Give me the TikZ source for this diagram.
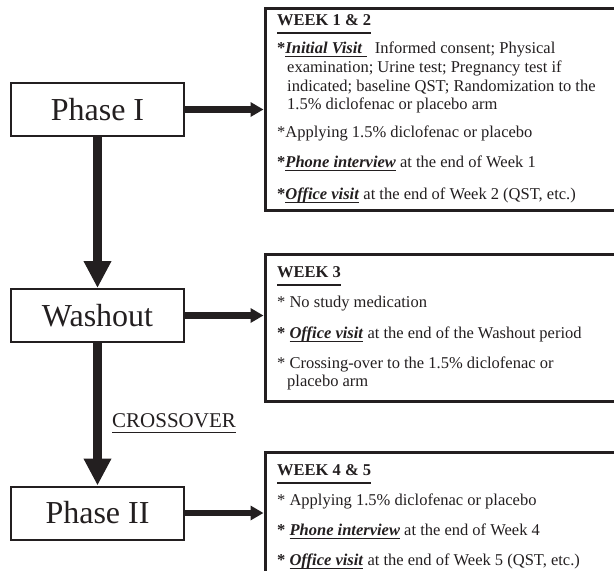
\documentclass[tikz,border=0pt]{standalone}
\usepackage{fontspec}
\setmainfont{Liberation Serif}
\usetikzlibrary{arrows.meta}
\definecolor{ink}{RGB}{35,31,32}
\newcommand\myul[2][4pt]{\setbox0\hbox{#2}\rlap{\color{ink}\rule[-#1]{\wd0}{1.3pt}}\box0\relax}
\newcommand\hdul[1]{\setbox0\hbox{#1}\rlap{\color{ink}\rule[-8.5pt]{\wd0}{2pt}}\box0\relax}
\newcommand\bi[1]{\textbf{\textit{#1}}}
\tikzset{
  phase/.style={draw=ink, line width=2pt, minimum width=173pt, minimum height=53pt, inner sep=0pt,
    font=\fontsize{32}{34}\selectfont, text=ink},
  weekbox/.style={draw=ink, line width=3pt, minimum width=360pt, inner sep=0pt},
  txt/.style={anchor=base west, inner sep=0pt, font=\fontsize{16.5}{18.5}\selectfont, text=ink},
  hd/.style={txt, font=\fontsize{16.5}{18.5}\selectfont\bfseries},
  varrow/.style={draw=ink, line width=9pt, -{Triangle[width=26pt,length=27pt]}},
  harrow/.style={draw=ink, line width=6.5pt, -{Triangle[width=14pt,length=13pt]}},
}
\begin{document}
\begin{tikzpicture}[x=1pt,y=-1pt]
\useasboundingbox (0,0) rectangle (614,571);
\clip (0,0) rectangle (614,571);
\fill[white] (0,0) rectangle (614,571);
% left boxes
\node[phase] (p1) at (97.5,109.5) {Phase I};
\node[phase] (wo) at (97.5,315.5) {Washout};
\node[phase] (p2) at (97.5,513) {Phase II};
% right boxes
\node[weekbox, minimum height=202pt] (w12) at (445,109) {};
\node[weekbox, minimum height=147pt] (w3) at (445,327.5) {};
\node[weekbox, minimum height=150pt] (w45) at (445,527) {};
% arrows
\draw[varrow] (p1.south) -- (wo.north);
\draw[varrow] (wo.south) -- (p2.north);
\draw[harrow] (p1.east) -- (p1.east -| w12.west);
\draw[harrow] (wo.east) -- (wo.east -| w3.west);
\draw[harrow] (p2.east) -- (p2.east -| w45.west);
\node[anchor=base west, inner sep=0pt, font=\fontsize{21}{23}\selectfont, text=ink] (cross) at (112,427) {\myul[6pt]{CROSSOVER}};
% box 1 text
\node[hd] (h1) at (277,25) {\hdul{WEEK 1 \& 2}};
\node[txt] (a1) at (277,53) {\textbf{*}\myul{\bi{Initial Visit}\ }\ \ Informed consent; Physical};
\node[txt] (a2) at (287,72) {examination; Urine test; Pregnancy test if};
\node[txt] (a3) at (287,91) {indicated; baseline QST; Randomization to the};
\node[txt] (a4) at (287,109) {1.5\% diclofenac or placebo arm};
\node[txt] (a5) at (277,137) {*Applying 1.5\% diclofenac or placebo};
\node[txt] (a6) at (277,167) {\textbf{*}\myul{\bi{Phone interview}} at the end of Week 1};
\node[txt] (a7) at (277,199) {\textbf{*}\myul{\bi{Office visit}} at the end of Week 2 (QST, etc.)};
% box 2 text
\node[hd] (h2) at (277,277) {\hdul{WEEK 3}};
\node[txt] (b1) at (277,307) {* No study medication};
\node[txt] (b2) at (277,338) {\textbf{*} \myul{\bi{Office visit}} at the end of the Washout period};
\node[txt] (b3) at (277,368) {* Crossing-over to the 1.5\% diclofenac or};
\node[txt] (b4) at (287,386) {placebo arm};
% box 3 text
\node[hd] (h3) at (277,475) {\hdul{WEEK 4 \& 5}};
\node[txt] (c1) at (277,505) {* Applying 1.5\% diclofenac or placebo};
\node[txt] (c2) at (277,535) {\textbf{*} \myul{\bi{Phone interview}} at the end of Week 4};
\node[txt] (c3) at (277,565) {\textbf{*} \myul{\bi{Office visit}} at the end of Week 5 (QST, etc.)};
\end{tikzpicture}
\end{document}
